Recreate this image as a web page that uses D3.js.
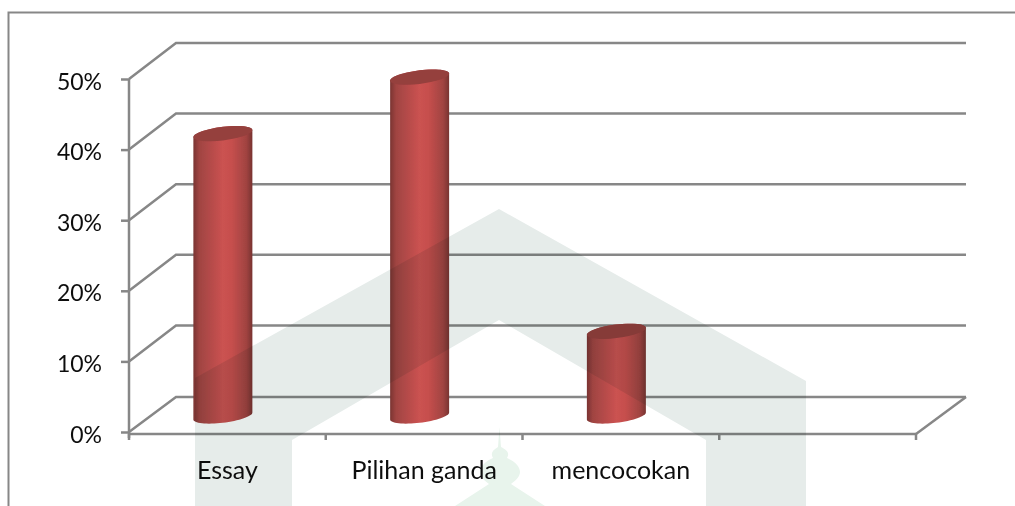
<!DOCTYPE html>
<html>
<head>
<meta charset="utf-8">
<script src="https://cdn.jsdelivr.net/npm/d3@7/dist/d3.min.js"></script>
<style>
  html, body { margin: 0; padding: 0; background: #fff; }
  svg { display: block; }
  text { font-family: Lato, "Open Sans", sans-serif; fill: #111; }
  .watermark { mix-blend-mode: multiply; }
</style>
</head>
<body>
<div id="chart"></div>
<script>
// Data
const categories = ['Essay', 'Pilihan ganda', 'mencocokan', ''];
const values = [40, 48, 12];
const yTicks = [0, 10, 20, 30, 40, 50];

const width = 1015, height = 506;
const gridColor = '#878787';

// Plot frame
const front = { left: 129, right: 916, bottom: 434, top: 79 };
const depth = { dx: 47, dy: 36 };
const wallRight = 966;

const svg = d3.select('#chart').append('svg')
  .attr('width', width)
  .attr('height', height)
  .attr('viewBox', `0 0 ${width} ${height}`);

const defs = svg.append('defs');

defs.append('filter').attr('id', 'soft')
  .append('feGaussianBlur').attr('stdDeviation', 0.45);

const bodyGrad = defs.append('linearGradient').attr('id', 'cyl')
  .attr('x1', 0).attr('x2', 1).attr('y1', 0).attr('y2', 0);
[[0, '#7a3432'], [0.1, '#a04442'], [0.5, '#cb5251'], [0.65, '#c64f4d'], [0.9, '#a04341'], [1, '#783331']]
  .forEach(([o, c]) => bodyGrad.append('stop').attr('offset', o).attr('stop-color', c));

const x = d3.scaleBand().domain(categories).range([front.left, front.right]);
const y = d3.scaleLinear().domain([0, 50]).range([432, front.top]);

const root = svg.append('g').attr('filter', 'url(#soft)');

// Outer frame, only top and left are visible
root.append('path')
  .attr('d', `M8.5,${height}V12.5H${width}`)
  .attr('fill', 'none').attr('stroke', gridColor).attr('stroke-width', 2);

// Back wall gridlines and side wall diagonals
const grid = root.append('g').attr('fill', 'none').attr('stroke', gridColor).attr('stroke-width', 2.5);
yTicks.forEach(t => {
  const py = y(t);
  const backY = t === 0 ? 397 : py - depth.dy;
  grid.append('path')
    .attr('d', `M${front.left},${py}L${front.left + depth.dx},${backY}H${wallRight}`);
});

// Floor right edge
grid.append('path').attr('d', `M${front.right},${front.bottom}L${wallRight},397`);

// Axes
const yAxis = d3.axisLeft(y).tickValues(yTicks).tickFormat(d => d + '%').tickSize(8).tickPadding(19);
const gy = root.append('g').attr('transform', `translate(${front.left},0)`).call(yAxis);
gy.select('.domain').attr('d', `M0,${y(50)}V${front.bottom + 4}`);

const xAxis = d3.axisBottom(x).tickSize(0).tickPadding(27);
const gx = root.append('g').attr('transform', `translate(0,${front.bottom})`).call(xAxis);
gx.select('.domain').attr('d', `M${front.left},0H${front.right}`);
gx.selectAll('.edge')
  .data(d3.range(categories.length + 1))
  .join('line')
  .attr('class', 'edge')
  .attr('x1', i => front.left + i * x.step())
  .attr('x2', i => front.left + i * x.step())
  .attr('y1', 0).attr('y2', 6);

root.selectAll('.domain, .tick line, .edge')
  .attr('stroke', gridColor).attr('stroke-width', 2.5);
gy.selectAll('.tick text').attr('font-size', 23).attr('dy', '0.44em').attr('fill', '#111');
gx.selectAll('.tick text').attr('font-size', 25).attr('fill', '#111');

// Cylinders
const barWidth = 59;
const rx = barWidth / 2, ry = 6.8, rise = 3.5;
const barShift = -4.5;
const baseY = 416;
const unit = (y(0) - y(10)) / 10;

// Sheared ellipse, so the side edges stay vertical
const rim = (cy, from, to) => d3.range(0, 33).map(i => {
  const t = from + (to - from) * i / 32;
  return [rx * Math.cos(t), cy + ry * Math.sin(t) - rise * Math.cos(t)];
});
const line = d3.line();

const bars = root.append('g').selectAll('g')
  .data(values)
  .join('g')
  .attr('transform', (d, i) => `translate(${x(categories[i]) + x.bandwidth() / 2 + barShift},0)`);

bars.append('path')
  .attr('fill', 'url(#cyl)')
  .attr('d', d => line([
    ...rim(baseY - d * unit, Math.PI, 2 * Math.PI),
    ...rim(baseY, 0, Math.PI)
  ]) + 'Z');

bars.append('path')
  .attr('fill', '#953f3d')
  .attr('d', d => line(rim(baseY - d * unit, 0, 2 * Math.PI)) + 'Z');

// Watermark sits over everything
const mark = svg.append('g').attr('class', 'watermark');
mark.append('path')
  .attr('fill', '#e6ecea')
  .attr('d', 'M499,209L806,381V506H706V440L499,320L292,440V506H195V378Z');
mark.append('path')
  .attr('fill', '#e8f4ec')
  .attr('d', 'M499.5,427L501,447C507,450 510,453 507,458C514,461 520,466 520,472C520,477 515,481 511,484' +
    'L545,506H455L489,484C485,481 480,477 480,472C480,466 486,461 493,458C490,453 493,450 498,447Z');
</script>
</body>
</html>
